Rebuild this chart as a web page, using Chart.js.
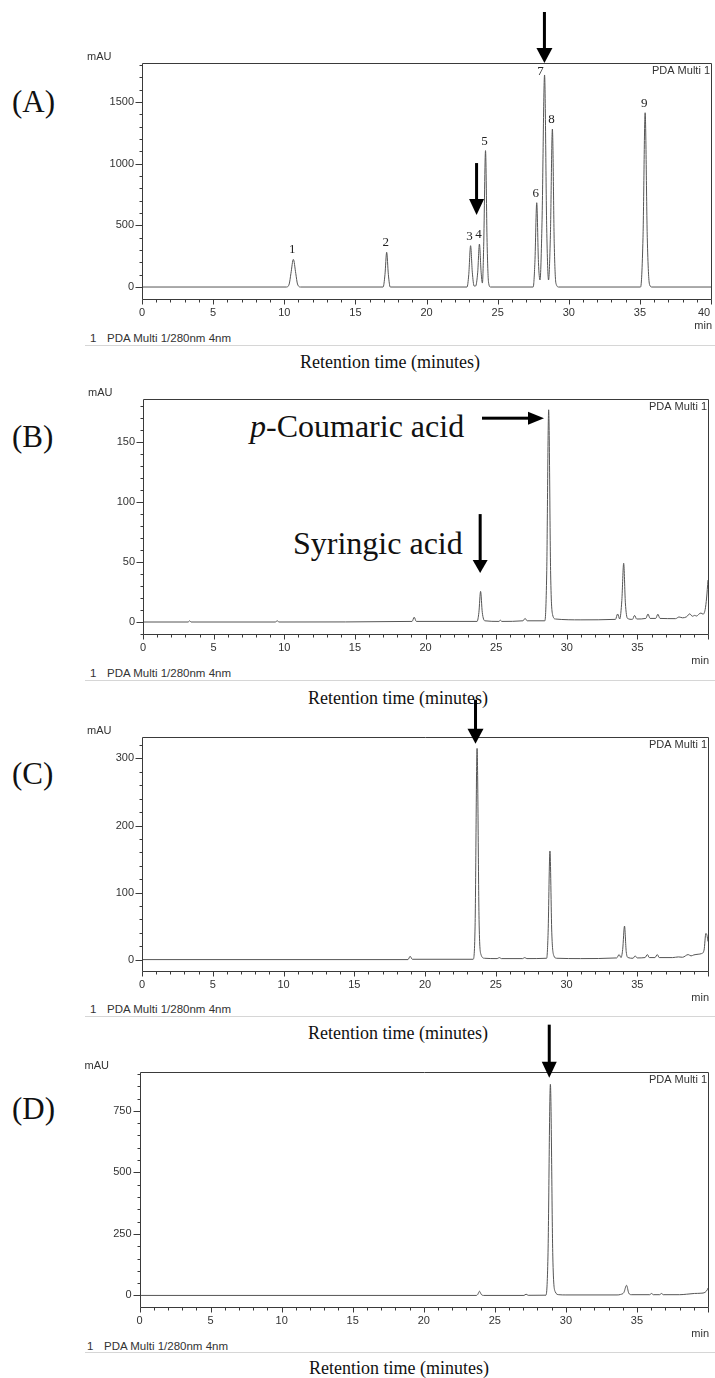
<!DOCTYPE html>
<html>
<head>
<meta charset="utf-8">
<script src="https://cdn.jsdelivr.net/npm/chart.js@4.4.0/dist/chart.umd.min.js"></script>
<style>
    html, body { margin: 0; padding: 0; background: #fff; }
    body { position: relative; width: 715px; height: 1378px; overflow: hidden; }
    .abs { position: absolute; white-space: nowrap; line-height: 1; }
    .serif { font-family: "Liberation Serif", "Times New Roman", serif; color: #111; }
    .sans { font-family: "Liberation Sans", Arial, sans-serif; color: #333; font-size: 11.5px; }
    .panel { font-size: 31px; left: 12px; }
    .rt { font-size: 18px; }
    .note { font-size: 32px; }
    .sep { position: absolute; left: 85px; width: 630px; height: 1px; background: #d6d6d6; }
    canvas { position: absolute; left: 0; }
</style>
</head>
<body>

<div class="abs serif panel" style="top:86px">(A)</div>
<div class="abs serif panel" style="top:421px">(B)</div>
<div class="abs serif panel" style="top:758px">(C)</div>
<div class="abs serif panel" style="top:1093px">(D)</div>

<div class="abs sans" style="left:90px;top:333px">1</div>
<div class="abs sans" style="left:107px;top:333px">PDA Multi 1/280nm 4nm</div>
<div class="sep" style="top:345px"></div>
<div class="abs serif rt" style="left:300px;top:353px">Retention time (minutes)</div>

<div class="abs sans" style="left:90px;top:668px">1</div>
<div class="abs sans" style="left:107px;top:668px">PDA Multi 1/280nm 4nm</div>
<div class="sep" style="top:680px"></div>
<div class="abs serif rt" style="left:308px;top:689px">Retention time (minutes)</div>

<div class="abs sans" style="left:90px;top:1004px">1</div>
<div class="abs sans" style="left:107px;top:1004px">PDA Multi 1/280nm 4nm</div>
<div class="sep" style="top:1016px"></div>
<div class="abs serif rt" style="left:308px;top:1024px">Retention time (minutes)</div>

<div class="abs sans" style="left:87px;top:1341px">1</div>
<div class="abs sans" style="left:104px;top:1341px">PDA Multi 1/280nm 4nm</div>
<div class="sep" style="top:1352px"></div>
<div class="abs serif rt" style="left:309px;top:1359px">Retention time (minutes)</div>

<div class="abs serif note" style="left:250px;top:410px"><i>p</i>-Coumaric acid</div>
<div class="abs serif note" style="left:293px;top:527px">Syringic acid</div>

<script>
// --- Dữ liệu sắc ký đồ (phút, mAU) ---
// (A) chuẩn hỗn hợp
const timeA = [0, 10.15, 10.35, 10.47, 10.64, 10.81, 10.93, 11.15, 16.95, 17.08, 17.2, 17.32, 17.45,
    22.85, 22.97, 23.1, 23.22, 23.35, 23.45, 23.6, 23.72, 23.84, 23.93, 24.02, 24.15, 24.26, 24.36, 24.5,
    27.5, 27.62, 27.75, 27.87, 27.98, 28.12, 28.3, 28.45, 28.58, 28.71, 28.85, 28.98, 29.1, 29.3,
    35.05, 35.22, 35.37, 35.52, 35.68, 35.85, 41];
const mauA = [0, 0, 25, 110, 224, 110, 25, 0, 0, 100, 281, 100, 0,
    0, 100, 335, 120, 8, 8, 120, 348, 120, 32, 330, 1105, 360, 40, 0,
    0, 200, 683, 200, 57, 520, 1718, 480, 57, 420, 1280, 350, 30, 0,
    0, 400, 1412, 400, 20, 0, 0];
const peakNoA = ['1', '2', '3', '4', '5', '6', '7', '8', '9'];
const peakTimeA = [10.64, 17.2, 23.1, 23.72, 24.15, 27.75, 28.3, 28.85, 35.37];
const peakMauA = [224, 281, 335, 348, 1105, 683, 1718, 1280, 1412];

// (B)
const timeB = [0, 3.2, 3.3, 3.4, 9.4, 9.5, 9.6, 19.05, 19.2, 19.35, 23.65, 23.78, 23.9, 24.02, 24.2,
    25.2, 25.3, 25.4, 26.9, 27.05, 27.2, 28.45, 28.58, 28.72, 28.86, 29.0, 29.2, 31,
    33.45, 33.6, 33.75, 33.9, 34.03, 34.15, 34.3, 34.65, 34.8, 34.95, 35.6, 35.75, 35.9,
    36.3, 36.45, 36.6, 37.7, 37.95, 38.2, 38.5, 38.7, 38.9, 39.05, 39.2, 39.35, 39.5, 39.65, 39.8, 39.9, 40];
const mauB = [0, 0, 1, 0, 0, 1.2, 0, 0.5, 4, 0.5, 0.5, 8, 25.5, 8, 1,
    0.5, 1.5, 0.5, 1, 3, 1, 1, 40, 177, 40, 6, 2.5, 1.8,
    2.2, 6.7, 2.5, 18, 49, 16, 3, 2.2, 5.5, 2.5, 3, 6.7, 3,
    3, 6.5, 3, 2.8, 4.2, 3.5, 4.5, 6.8, 4.8, 5.5, 5, 6.5, 7.5, 6.5, 10.5, 20, 35];

// (C)
const timeC = [0, 18.8, 18.95, 19.1, 23.4, 23.54, 23.68, 23.82, 23.95, 24.2, 25.1, 25.25, 25.4,
    26.9, 27.05, 27.2, 28.6, 28.7, 28.83, 28.96, 29.1, 29.3, 31, 33.55, 33.72, 33.85,
    33.97, 34.1, 34.22, 34.35, 34.7, 34.85, 35.0, 35.55, 35.72, 35.85, 36.25, 36.42, 36.55,
    37.5, 37.9, 38.2, 38.6, 38.8, 39.0, 39.3, 39.55, 39.72, 39.85, 39.93, 40];
const mauC = [0, 0, 5, 0.5, 0.5, 50, 315, 60, 8, 2, 1.5, 3, 1.5,
    1.5, 3, 1.5, 2, 40, 162, 40, 6, 2, 1.5, 2.5, 7.5, 3,
    15, 50, 12, 3, 2, 5.5, 2.5, 3, 7.5, 3, 3, 7.5, 3,
    3, 4, 3.5, 7.5, 5.5, 7, 8, 9, 14, 39, 36, 27];

// (D)
const timeD = [0, 23.7, 23.8, 23.92, 24.05, 24.2, 27.05, 27.2, 27.35, 28.6, 28.74, 28.91, 29.08, 29.25, 29.5, 30,
    33.6, 33.85, 34.08, 34.27, 34.42, 34.6, 35.9, 36.03, 36.15, 36.6, 36.73, 36.85,
    38, 38.5, 39.05, 39.5, 39.8, 39.95, 40];
const mauD = [0, 0, 4, 17, 4, 0, 0, 5, 0.5, 1, 160, 858, 160, 15, 3, 2,
    2, 4, 12, 41, 10, 3, 3, 8, 3, 3, 8, 3,
    3, 5, 8, 9, 13, 23, 30];

// --- Bố cục từng khung ---
const PAD_TOP = 65;
const AXIS_H = 45;
const SANS = '"Liberation Sans", Arial, sans-serif';

const panels = [
    { time: timeA, mau: mauA, top: 63, plotH: 236, left: 142, right: 716, canvasW: 718,
      yMin: -97, yMax: 1815, yStep: 100, yMajor: 500, label40: true,
      peaks: { no: peakNoA, t: peakTimeA, v: peakMauA },
      arrows: [{ x: 28.29, y: 1815, dir: 'down', len: 51, head: 15, half: 8 },
               { x: 23.52, y: 583, dir: 'down', len: 52, head: 16, half: 7.5 }] },
    { time: timeB, mau: mauB, top: 399, plotH: 235, left: 143, right: 714, canvasW: 715,
      yMin: -10, yMax: 186, yStep: 10, yMajor: 50,
      arrows: [{ x: 28.39, y: 170, dir: 'right', len: 62, head: 16, half: 6.5 },
               { x: 23.87, y: 40.8, dir: 'down', len: 59, head: 13, half: 7.5 }] },
    { time: timeC, mau: mauC, top: 737, plotH: 234, left: 142, right: 714, canvasW: 715,
      yMin: -17, yMax: 332, yStep: 20, yMajor: 100,
      arrows: [{ x: 23.57, y: 322, dir: 'down', len: 44, head: 15, half: 8 }] },
    { time: timeD, mau: mauD, top: 1072, plotH: 235, left: 139.5, right: 714, canvasW: 715,
      yMin: -47, yMax: 908, yStep: 50, yMajor: 250,
      arrows: [{ x: 28.83, y: 885, dir: 'down', len: 53, head: 16, half: 7.5 }] }
];

function drawArrow(ctx, tx, ty, a) {
    ctx.beginPath();
    if (a.dir === 'down') {
        ctx.fillRect(tx - 1.5, ty - a.len, 3, a.len - a.head + 1);
        ctx.moveTo(tx - a.half, ty - a.head);
        ctx.lineTo(tx + a.half, ty - a.head);
        ctx.lineTo(tx, ty);
    } else {
        ctx.fillRect(tx - a.len, ty - 1.5, a.len - a.head + 1, 3);
        ctx.moveTo(tx - a.head, ty - a.half);
        ctx.lineTo(tx - a.head, ty + a.half);
        ctx.lineTo(tx, ty);
    }
    ctx.closePath();
    ctx.fill();
}

// Plugin vẽ khung, vạch chia, chữ và mũi tên
function framePlugin(p) {
    return {
        id: 'frame',
        afterDatasetsDraw(chart) {
            const { ctx, chartArea: a, scales: { x, y } } = chart;
            ctx.save();
            ctx.strokeStyle = '#3a3a3a';
            ctx.lineWidth = 1;
            const L = Math.round(a.left) + 0.5, T = Math.round(a.top) + 0.5;
            const R = Math.round(a.right) + 0.5, B = Math.round(a.bottom) + 0.5;
            ctx.beginPath();
            ctx.moveTo(L, T); ctx.lineTo(R, T); ctx.lineTo(R, B); ctx.lineTo(L, B); ctx.closePath();
            y.ticks.forEach(t => {
                const py = Math.round(y.getPixelForValue(t.value)) + 0.5;
                const len = t.label ? 7 : 3;
                ctx.moveTo(L - len, py); ctx.lineTo(L, py);
            });
            x.ticks.forEach(t => {
                const px = Math.round(x.getPixelForValue(t.value)) + 0.5;
                const len = t.value % 5 === 0 ? 5 : 3;
                ctx.moveTo(px, B); ctx.lineTo(px, B + len);
            });
            ctx.stroke();

            ctx.fillStyle = '#333';
            ctx.font = '11px ' + SANS;
            ctx.textBaseline = 'alphabetic';
            ctx.textAlign = 'left';
            ctx.fillText('mAU', a.left - 55, a.top - 3);
            ctx.textAlign = 'right';
            ctx.fillText('PDA Multi 1', a.right - 1, a.top + 11);
            ctx.fillText('min', a.right + 1, a.bottom + 30);
            if (p.label40) {
                ctx.textAlign = 'center';
                ctx.textBaseline = 'middle';
                ctx.fillText('40', a.right - 7, a.bottom + 14);
            }

            // số thứ tự đỉnh
            if (p.peaks) {
                ctx.fillStyle = '#222';
                ctx.font = '13px "Liberation Serif", "Times New Roman", serif';
                ctx.textAlign = 'center';
                ctx.textBaseline = 'alphabetic';
                p.peaks.no.forEach((no, i) => {
                    const px = x.getPixelForValue(p.peaks.t[i]);
                    const py = y.getPixelForValue(p.peaks.v[i]);
                    let by = py - 6, dx = -1;
                    if (by < a.top + 12) { by = a.top + 12; dx = -4; }
                    ctx.fillText(no, px + dx, by);
                });
            }

            ctx.fillStyle = '#000';
            p.arrows.forEach(ar => drawArrow(ctx, x.getPixelForValue(ar.x), y.getPixelForValue(ar.y), ar));
            ctx.restore();
        }
    };
}

function makeChart(p) {
    const cv = document.createElement('canvas');
    cv.width = p.canvasW;
    cv.height = PAD_TOP + p.plotH + AXIS_H;
    cv.style.top = (p.top - PAD_TOP) + 'px';
    document.body.appendChild(cv);

    new Chart(cv.getContext('2d'), {
        type: 'line',
        data: {
            datasets: [{
                data: p.time.map((t, i) => ({ x: t, y: p.mau[i] })),
                borderColor: '#555',
                borderWidth: 1,
                pointRadius: 0,
                fill: false,
                cubicInterpolationMode: 'monotone'
            }]
        },
        options: {
            responsive: false,
            animation: false,
            events: [],
            layout: { autoPadding: false, padding: { top: PAD_TOP, left: 0, right: p.canvasW - p.right, bottom: 0 } },
            plugins: { legend: { display: false }, tooltip: { enabled: false } },
            scales: {
                x: {
                    type: 'linear', min: 0, max: 40,
                    afterFit: s => { s.height = AXIS_H; },
                    grid: { display: false, drawTicks: false },
                    border: { display: false },
                    ticks: {
                        stepSize: 1, autoSkip: false, maxRotation: 0, padding: 7,
                        color: '#333', font: { family: SANS, size: 11 },
                        callback: v => (v % 5 === 0 && v < 40 ? String(v) : '')
                    }
                },
                y: {
                    min: p.yMin, max: p.yMax,
                    afterFit: s => { s.width = p.left; },
                    grid: { display: false, drawTicks: false },
                    border: { display: false },
                    ticks: {
                        stepSize: p.yStep, includeBounds: false, autoSkip: false, padding: 8,
                        maxTicksLimit: 1000,
                        color: '#333', font: { family: SANS, size: 11 },
                        callback: v => (Math.abs(v % p.yMajor) < 1e-6 ? String(v) : '')
                    }
                }
            }
        },
        plugins: [framePlugin(p)]
    });
}

panels.forEach(makeChart);
</script>
</body>
</html>
